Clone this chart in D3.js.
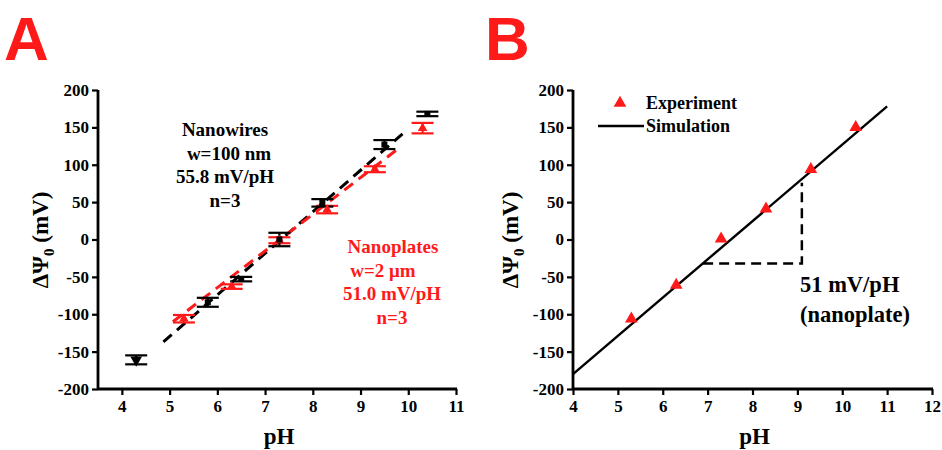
<!DOCTYPE html>
<html>
<head>
    <meta charset="utf-8">
    <title>pH response</title>
    <script src="https://d3js.org/d3.v7.min.js"></script>
    <style>
      body { margin: 0; background: #fff; }
      svg text { font-family: "Liberation Serif", "Times New Roman", serif; font-weight: bold; }
      svg text.letter { font-family: "Liberation Sans", Arial, sans-serif; }
    </style>
</head>
<body>
    <div id="chart"></div>
    <script>

// panel A data
const wirePH   = [4.3, 5.8, 6.5, 7.3, 8.2, 9.5, 10.4];
const wireMean = [-161, -84, -53, 0, 49, 127, 168];
const wireErr  = [6, 6, 3, 9, 5, 6, 3];
const platePH   = [5.3, 6.3, 7.3, 8.3, 9.3, 10.3];
const plateMean = [-106, -63, -1, 40, 94, 149];
const plateErr  = [5, 3, 4, 5, 4, 7];
const wireFit  = [[4.87, -137], [9.98, 147]];
const plateFit = [[5.07, -110], [9.8, 122]];
const wireNote  = ["Nanowires", "w=100 nm", "55.8 mV/pH", "n=3"];
const plateNote = ["Nanoplates", "w=2 \u03bcm", "51.0 mV/pH", "n=3"];

// panel B data
const expPH = [5.3, 6.3, 7.3, 8.3, 9.3, 10.3];
const expV  = [-106, -61, 1, 41, 94, 150];
const simLine = [[4, -180], [11, 178]];
const slopeGuide = [[6.9, -32], [9.1, -32], [9.1, 76]];
const slopeNote = ["51 mV/pH", "(nanoplate)"];

const yTicks = d3.range(-200, 201, 50);
const yMinor = d3.range(-175, 200, 50);

const width = 942, height = 450;
const red = "#ff1a1a";

const svg = d3.select("#chart").append("svg")
    .attr("width", width)
    .attr("height", height);

function frame(xDomain, xRange, xTicks, xMinor, ox) {
  const x = d3.scaleLinear().domain(xDomain).range(xRange);
  const y = d3.scaleLinear().domain([-200, 200]).range([389, 90]);

  const xa = svg.append("g").attr("transform", "translate(0,389)");
  xa.call(d3.axisBottom(x).tickValues(xMinor).tickSize(4).tickFormat(""));
  xa.call(d3.axisBottom(x).tickValues(xTicks).tickSize(6).tickPadding(5).tickFormat(d => String(d)));
  xa.selectAll(".domain").remove();

  const ya = svg.append("g").attr("transform", `translate(${xRange[0]},0)`);
  ya.call(d3.axisLeft(y).tickValues(yMinor).tickSize(4).tickFormat(""));
  ya.call(d3.axisLeft(y).tickValues(yTicks).tickSize(6).tickPadding(3).tickFormat(d => String(d)));
  ya.selectAll(".domain").remove();

  svg.selectAll(".tick line").attr("stroke", "#000").attr("stroke-width", 2.2);
  svg.selectAll(".tick text")
      .attr("font-size", 17)
      .attr("fill", "#000");

  svg.append("line")
      .attr("x1", xRange[0]).attr("x2", xRange[1] + 1)
      .attr("y1", 389).attr("y2", 389)
      .attr("stroke", "#000").attr("stroke-width", 2.8);
  svg.append("line")
      .attr("x1", xRange[0]).attr("x2", xRange[0])
      .attr("y1", 90).attr("y2", 390)
      .attr("stroke", "#000").attr("stroke-width", 2.8);

  // axis titles
  const yl = svg.append("text")
      .attr("transform", `translate(${ox + 48},240) rotate(-90)`)
      .attr("text-anchor", "middle")
      .attr("font-size", 23);
  yl.append("tspan").text("\u0394\u03a8");
  yl.append("tspan").attr("font-size", 15).attr("dy", 6).text("0");
  yl.append("tspan").attr("dy", -6).text(" (mV)");

  svg.append("text")
      .attr("x", (xRange[0] + xRange[1]) / 2 + 2)
      .attr("y", 444)
      .attr("text-anchor", "middle")
      .attr("font-size", 23)
      .text("pH");

  return {x, y};
}

function panelLetter(txt, x) {
  svg.append("text")
      .attr("class", "letter")
      .attr("x", x).attr("y", 60)
      .attr("font-size", 62)
      .attr("fill", red)
      .text(txt);
}

function errorBars(s, xs, ms, es, color) {
  const g = svg.append("g").attr("stroke", color).attr("stroke-width", 2.2);
  xs.forEach((v, i) => {
    const cx = s.x(v), top = s.y(ms[i] + es[i]), bot = s.y(ms[i] - es[i]);
    g.append("line").attr("x1", cx).attr("x2", cx).attr("y1", top).attr("y2", bot);
    g.append("line").attr("x1", cx - 11).attr("x2", cx + 11).attr("y1", top).attr("y2", top);
    g.append("line").attr("x1", cx - 11).attr("x2", cx + 11).attr("y1", bot).attr("y2", bot);
  });
}

// ---------- panel A
panelLetter("A", 4);
const A = frame([3.5, 11], [98, 456], d3.range(4, 12), d3.range(3.5, 11, 0.5).filter(d => d % 1), 0);

const line = d3.line();
svg.append("path")
    .attr("d", line(wireFit.map(d => [A.x(d[0]), A.y(d[1])])))
    .attr("fill", "none").attr("stroke", "#000").attr("stroke-width", 3)
    .attr("stroke-dasharray", "11,7");
svg.append("path")
    .attr("d", line(plateFit.map(d => [A.x(d[0]), A.y(d[1])])))
    .attr("fill", "none").attr("stroke", red).attr("stroke-width", 3)
    .attr("stroke-dasharray", "11,7");

errorBars(A, platePH, plateMean, plateErr, red);
errorBars(A, wirePH, wireMean, wireErr, "#000");

svg.append("g").selectAll("path")
  .data(platePH)
  .join("path")
    .attr("transform", (d, i) => `translate(${A.x(d)},${A.y(plateMean[i])})`)
    .attr("d", d3.symbol(d3.symbolTriangle, 40))
    .attr("fill", red);

svg.append("g").selectAll("path")
  .data(wirePH)
  .join("path")
    .attr("transform", (d, i) => `translate(${A.x(d)},${A.y(wireMean[i])})` + (i === 0 ? " rotate(180)" : ""))
    .attr("d", (d, i) => d3.symbol(i === 0 ? d3.symbolTriangle : d3.symbolSquare, i === 0 ? 60 : 36)())
    .attr("fill", "#000");

svg.append("g").selectAll("text")
  .data(wireNote)
  .join("text")
    .attr("x", (d, i) => i === 1 ? 229 : 225)
    .attr("y", (d, i) => 136 + i * 23.5)
    .attr("text-anchor", "middle")
    .attr("font-size", 19)
    .text(d => d);

svg.append("g").selectAll("text")
  .data(plateNote)
  .join("text")
    .attr("x", (d, i) => [393, 383, 392, 392][i])
    .attr("y", (d, i) => 253 + i * 23.5)
    .attr("text-anchor", "middle")
    .attr("font-size", 19)
    .attr("fill", red)
    .text(d => d);

// ---------- panel B
panelLetter("B", 485);
const B = frame([4, 12], [573, 932], d3.range(4, 13), d3.range(4.5, 12, 1), 470);

svg.append("path")
    .attr("d", line(slopeGuide.map(d => [B.x(d[0]), B.y(d[1])])))
    .attr("fill", "none").attr("stroke", "#000").attr("stroke-width", 2.5)
    .attr("stroke-dasharray", "10,6");

svg.append("path")
    .attr("d", line(simLine.map(d => [B.x(d[0]), B.y(d[1])])))
    .attr("fill", "none").attr("stroke", "#000").attr("stroke-width", 2.4);

svg.append("g").selectAll("path")
  .data(expPH)
  .join("path")
    .attr("transform", (d, i) => `translate(${B.x(d)},${B.y(expV[i])})`)
    .attr("d", d3.symbol(d3.symbolTriangle, 70))
    .attr("fill", red);

svg.append("g").selectAll("text")
  .data(slopeNote)
  .join("text")
    .attr("x", 800)
    .attr("y", (d, i) => 292 + i * 30)
    .attr("font-size", 22.5)
    .text(d => d);

// legend
svg.append("path")
    .attr("transform", "translate(620,103)")
    .attr("d", d3.symbol(d3.symbolTriangle, 70))
    .attr("fill", red);
svg.append("text").attr("x", 646).attr("y", 109).attr("font-size", 18).text("Experiment");
svg.append("line")
    .attr("x1", 598).attr("x2", 644).attr("y1", 126).attr("y2", 126)
    .attr("stroke", "#000").attr("stroke-width", 2.4);
svg.append("text").attr("x", 646).attr("y", 132).attr("font-size", 18).text("Simulation");

    </script>
</body>
</html>
